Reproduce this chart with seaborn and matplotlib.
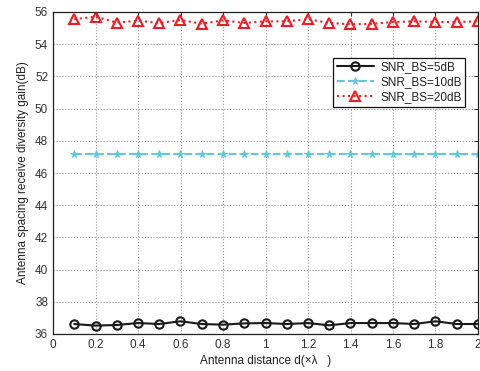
import numpy as np
import pandas as pd
import seaborn as sns
import matplotlib.pyplot as plt

distance = [0.1, 0.2, 0.3, 0.4, 0.5, 0.6, 0.7, 0.8, 0.9, 1.0,
            1.1, 1.2, 1.3, 1.4, 1.5, 1.6, 1.7, 1.8, 1.9, 2.0]
snr_5db = [36.62, 36.52, 36.56, 36.68, 36.62, 36.79, 36.62, 36.58, 36.66, 36.68,
           36.62, 36.68, 36.54, 36.68, 36.68, 36.68, 36.62, 36.79, 36.62, 36.62]
snr_10db = [47.15] * 20
snr_20db = [55.55, 55.71, 55.34, 55.46, 55.32, 55.50, 55.27, 55.48, 55.32, 55.42,
            55.42, 55.55, 55.32, 55.24, 55.26, 55.38, 55.42, 55.38, 55.38, 55.42]

sns.set_style("white")
plt.rcParams['font.family'] = ['Liberation Sans', 'DejaVu Sans']

df = pd.DataFrame({'d': distance, 'SNR_BS=5dB': snr_5db,
                   'SNR_BS=10dB': snr_10db, 'SNR_BS=20dB': snr_20db})

fig = plt.figure(figsize=(4.81, 3.71), dpi=100)
ax = fig.add_axes([53 / 481, 1 - 334 / 371, 425 / 481, 322 / 371])

sns.lineplot(data=df, x='d', y='SNR_BS=5dB', ax=ax, color='#1a1a1a', lw=1.5,
             marker='o', markersize=6, markerfacecolor='none', markeredgewidth=1.5,
             markeredgecolor='#1a1a1a', label='SNR_BS=5dB')
sns.lineplot(data=df, x='d', y='SNR_BS=10dB', ax=ax, color='#5ec8dc', lw=1.5,
             linestyle='--', marker='*', markersize=5.5, markeredgecolor='#5ec8dc',
             label='SNR_BS=10dB')
sns.lineplot(data=df, x='d', y='SNR_BS=20dB', ax=ax, color='#ee1c25', lw=1.5,
             linestyle=':', marker='^', markersize=6.5, markerfacecolor='none',
             markeredgewidth=1.5, markeredgecolor='#ee1c25', label='SNR_BS=20dB')

ax.set_xlim(0, 2)
ax.set_ylim(36, 56)
ax.set_xticks(np.arange(0, 2.01, 0.2))
ax.set_xticklabels(['0', '0.2', '0.4', '0.6', '0.8', '1', '1.2', '1.4', '1.6', '1.8', '2'])
ax.set_yticks(np.arange(36, 56.1, 2))
ax.grid(True, color='#999999', linestyle=':', lw=0.8)
ax.tick_params(direction='in', top=True, right=True, labelsize=8.5, length=3,
               colors='#333333')
for s in ax.spines.values():
    s.set_color('#222222')
    s.set_linewidth(0.9)
ax.set_xlabel('Antenna distance d(\u00d7\u03bb   )', fontsize=8.5, labelpad=3,
              color='#222222')
ax.set_ylabel('Antenna spacing receive diversity gain(dB)', fontsize=8.5, labelpad=4,
              color='#222222')

leg = ax.legend(loc='upper right', bbox_to_anchor=(0.984, 0.876), fontsize=8.5,
                frameon=True, fancybox=False, edgecolor='#111111', framealpha=1,
                handlelength=3.2, borderpad=0.3, labelspacing=0.25, handletextpad=0.5)
leg.get_frame().set_linewidth(0.9)
for t in leg.get_texts():
    t.set_color('#222222')

fig.savefig('out.png', dpi=100)
